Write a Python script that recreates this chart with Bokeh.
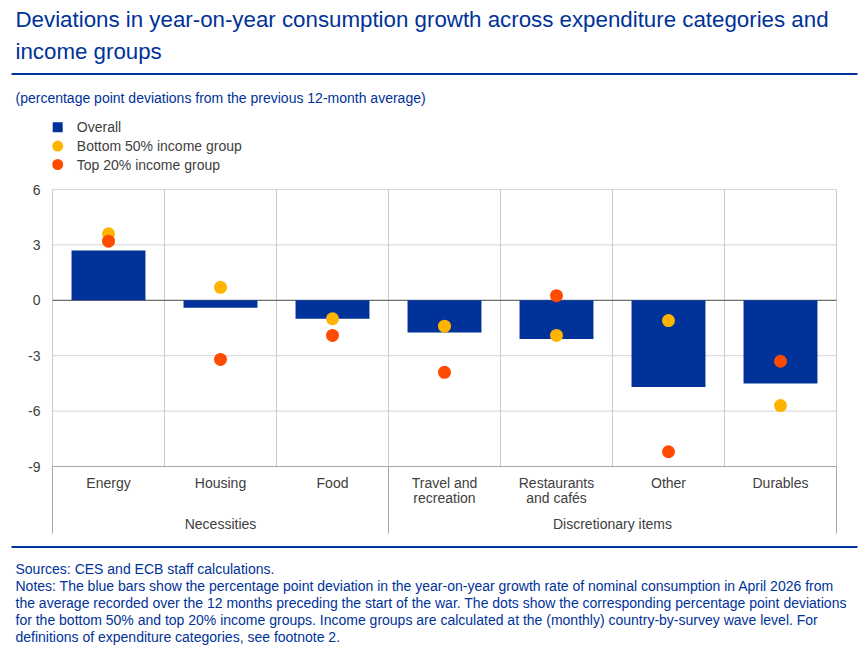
from bokeh.plotting import figure
from bokeh.models import Range1d
from bokeh.layouts import column
from bokeh.embed import file_html
from bokeh.resources import INLINE
from bokeh.core.properties import value

# ---------------- data ----------------
categories = ["Energy", "Housing", "Food", "Travel and\nrecreation",
              "Restaurants\nand cafés", "Other", "Durables"]
overall = [2.7, -0.4, -1.0, -1.75, -2.1, -4.7, -4.5]
bottom50 = [3.6, 0.7, -1.0, -1.4, -1.9, -1.1, -5.7]
top20 = [3.2, -3.2, -1.9, -3.9, 0.25, -8.2, -3.3]
groups = ["Necessities", "Discretionary items"]
group_sizes = [3, 4]
y_ticks = [-9, -6, -3, 0, 3, 6]
y_tick_labels = ["-9", "-6", "-3", "0", "3", "6"]
series_names = ["Overall", "Bottom 50% income group", "Top 20% income group"]
title_lines = ["Deviations in year-on-year consumption growth across expenditure categories and",
               "income groups"]
subtitle = "(percentage point deviations from the previous 12-month average)"
footer_lines = [
    "Sources: CES and ECB staff calculations.",
    "Notes: The blue bars show the percentage point deviation in the year-on-year growth rate of nominal consumption in April 2026 from",
    "the average recorded over the 12 months preceding the start of the war. The dots show the corresponding percentage point deviations",
    "for the bottom 50% and top 20% income groups. Income groups are calculated at the (monthly) country-by-survey wave level. For",
    "definitions of expenditure categories, see footnote 2.",
]

# ---------------- style ----------------
FONT = "Liberation Sans"
BLUE = "#003299"
YELLOW = "#FFB400"
ORANGE = "#FF4B00"
GREY_TXT = "#404040"
W = 862
PLOT_LEFT, PLOT_RIGHT = 52, 836   # pixel edges of the category area
PX_PER_UNIT = 277 / 15            # vertical scale of the value axis


def blank(height, y_range=None, x_range=None, **kw):
    fig = figure(width=W, height=height,
                 x_range=x_range if x_range is not None else Range1d(0, W),
                 y_range=y_range if y_range is not None else Range1d(height, 0),
                 output_backend="svg", toolbar_location=None,
                 x_axis_location=None, y_axis_location=None, **kw)
    fig.outline_line_color = None
    fig.grid.visible = False
    return fig


# ---------------- header ----------------
HH = 180
h = blank(HH, min_border=0)
h.text(x=[15, 15], y=[19, 51], text=title_lines, text_baseline="middle",
       text_font=value(FONT), text_font_size="22.3px", text_color=BLUE)
h.segment(x0=[11], y0=[73.5], x1=[857], y1=[73.5], line_color=BLUE, line_width=2)
h.text(x=[15], y=[97], text=[subtitle], text_baseline="middle",
       text_font=value(FONT), text_font_size="14px", text_color=BLUE)
h.scatter(x=[57.2], y=[126.7], marker="square", size=10, fill_color=BLUE, line_color=None)
h.scatter(x=[57.2], y=[145.6], marker="circle", size=11, fill_color=YELLOW, line_color=None)
h.scatter(x=[57.2], y=[164], marker="circle", size=11, fill_color=ORANGE, line_color=None)
h.text(x=[76.3] * 3, y=[126.7, 145.6, 164], text=series_names, text_baseline="middle",
       text_font=value(FONT), text_font_size="14px", text_color=GREY_TXT)

# ---------------- chart ----------------
n = len(categories)
unit = (PLOT_RIGHT - PLOT_LEFT) / n
xs = [i + 0.5 for i in range(n)]
CH = 360
top_val = y_ticks[-1] + 9 / PX_PER_UNIT          # 9 px of headroom above the top tick
bot_val = top_val - (CH - 2) / PX_PER_UNIT
p = blank(CH, x_range=Range1d(-PLOT_LEFT / unit, (W - PLOT_LEFT) / unit),
          y_range=Range1d(bot_val, top_val),
          min_border_left=0, min_border_right=0, min_border_top=0, min_border_bottom=2)

ymin, ymax = y_ticks[0], y_ticks[-1]
# horizontal grid lines
p.segment(x0=[0] * len(y_ticks), y0=y_ticks, x1=[n] * len(y_ticks), y1=y_ticks,
          line_color="#d4d4d4", line_width=1)
# vertical category boundaries
bounds = list(range(n + 1))
p.segment(x0=bounds, y0=[ymax] * len(bounds), x1=bounds, y1=[ymin] * len(bounds),
          line_color="#cccccc", line_width=1)
# group separators under the axis
gb = [0]
for s in group_sizes:
    gb.append(gb[-1] + s)
p.segment(x0=gb, y0=[ymin] * len(gb), x1=gb, y1=[ymin - 67 / PX_PER_UNIT] * len(gb),
          line_color="#a6a6a6", line_width=1)
p.segment(x0=[0], y0=[ymin], x1=[n], y1=[ymin], line_color="#a6a6a6", line_width=1)
p.segment(x0=[0], y0=[0], x1=[n], y1=[0], line_color="#555555", line_width=1)

p.vbar(x=xs, top=overall, bottom=0, width=0.66, fill_color=BLUE, line_color=None)
p.scatter(x=xs, y=bottom50, marker="circle", size=13, fill_color=YELLOW, line_color=None)
p.scatter(x=xs, y=top20, marker="circle", size=13, fill_color=ORANGE, line_color=None)

# y tick labels
p.text(x=[0] * len(y_ticks), y=y_ticks, text=y_tick_labels, text_align="right",
       text_baseline="middle", x_offset=-12, text_font=value(FONT),
       text_font_size="14px", text_color=GREY_TXT)
# category labels
p.text(x=xs, y=[ymin] * n, text=categories, text_align="center", text_baseline="top",
       y_offset=8, text_font=value(FONT), text_font_size="14px", text_color=GREY_TXT,
       text_line_height=0.97)
gcent = [(gb[i] + gb[i + 1]) / 2 for i in range(len(groups))]
p.text(x=gcent, y=[ymin] * len(groups), text=groups, text_align="center", text_baseline="top",
       y_offset=49, text_font=value(FONT), text_font_size="14px", text_color=GREY_TXT)

# ---------------- footer ----------------
FH = 106
f = blank(FH, min_border=0)
f.segment(x0=[11], y0=[6.5], x1=[857], y1=[6.5], line_color=BLUE, line_width=2)
f.text(x=[15] * len(footer_lines), y=[28 + 17 * i for i in range(len(footer_lines))],
       text=footer_lines, text_baseline="middle",
       text_font=value(FONT), text_font_size="14px", text_color=BLUE)

layout = column(h, p, f, spacing=0)
open("out.html", "w").write(file_html(layout, INLINE))
